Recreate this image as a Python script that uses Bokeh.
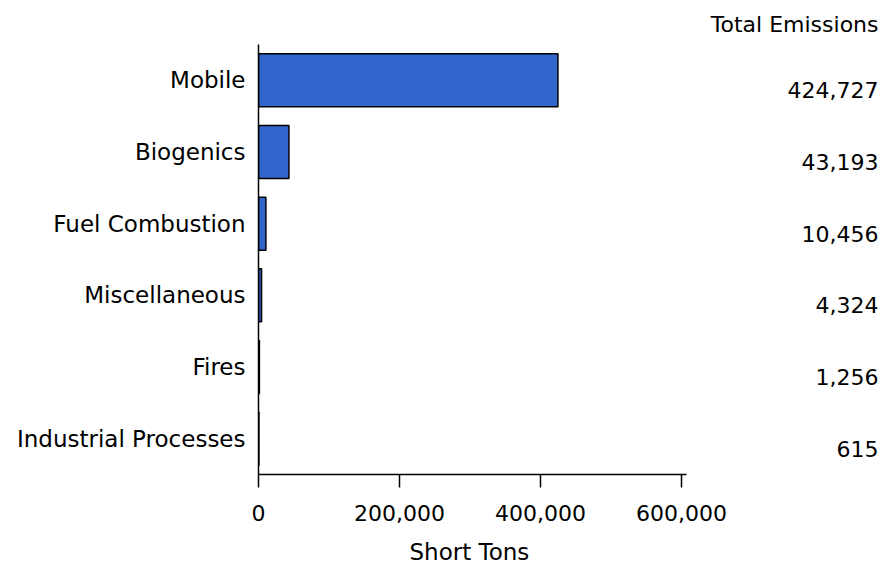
from bokeh.plotting import figure
from bokeh.models import (ColumnDataSource, FactorRange, Range1d, Title,
                          FixedTicker, NumeralTickFormatter)
from bokeh.core.properties import value
from bokeh.embed import file_html
from bokeh.resources import INLINE

categories = ["Mobile", "Biogenics", "Fuel Combustion", "Miscellaneous", "Fires",
              "Industrial Processes"]
emissions = [424727, 43193, 10456, 4324, 1256, 615]
x_ticks = [0, 200000, 400000, 600000]
value_header = "Total Emissions"
x_title = "Short Tons"

FONT = "DejaVu Sans"
FS_NUM = "22px"
FS_LAB = "23px"

axis_end = 607000      # end of the drawn x axis
x_end = 888000         # frame extends to the right to hold the value column

n = len(categories)
src = ColumnDataSource(dict(cat=categories, val=emissions,
                            lab=[f"{v:,}" for v in emissions],
                            xr=[x_end] * n))

p = figure(width=886, height=584, output_backend="svg", toolbar_location=None,
           y_range=FactorRange(factors=list(reversed(categories))),
           x_range=Range1d(0, x_end),
           min_border_left=258, min_border_right=2, min_border_top=44,
           min_border_bottom=110, title=value_header)

p.hbar(y="cat", right="val", left=0, height=0.74, source=src,
       fill_color="#3366CC", line_color="black", line_width=1.5)

p.text(x="xr", y="cat", text="lab", source=src, text_align="right",
       text_baseline="middle", x_offset=-6, y_offset=10,
       text_font=value(FONT), text_font_size=value(FS_NUM), text_color="black")

p.xgrid.visible = False
p.ygrid.visible = False
p.outline_line_color = None

xa = p.xaxis[0]
xa.bounds = (0, axis_end)
xa.ticker = FixedTicker(ticks=x_ticks)
xa.formatter = NumeralTickFormatter(format="0,0")
xa.minor_tick_line_color = None
xa.major_tick_out = 13
xa.major_tick_in = 0
xa.major_tick_line_width = 1.5
xa.axis_line_width = 1.5
xa.axis_line_color = "black"
xa.major_tick_line_color = "black"
xa.major_label_text_font = FONT
xa.major_label_text_font_size = FS_NUM
xa.major_label_text_color = "black"
xa.major_label_standoff = 17

# x-axis title, centred under the drawn axis (not the whole frame)
xt = Title(text=x_title, align="left", offset=151, standoff=26,
           text_font=FONT, text_font_size=FS_LAB, text_font_style="normal",
           text_color="black")
p.add_layout(xt, "below")

ya = p.yaxis[0]
ya.major_tick_line_color = None
ya.minor_tick_line_color = None
ya.major_tick_out = 0
ya.major_tick_in = 0
ya.axis_line_width = 1.5
ya.axis_line_color = "black"
ya.major_label_text_font = FONT
ya.major_label_text_font_size = FS_LAB
ya.major_label_text_color = "black"
ya.major_label_standoff = 13

t = p.title
t.align = "right"
t.offset = 6
t.standoff = 16
t.text_font = FONT
t.text_font_size = FS_NUM
t.text_font_style = "normal"
t.text_color = "black"

open("out.html", "w").write(file_html(p, INLINE))
